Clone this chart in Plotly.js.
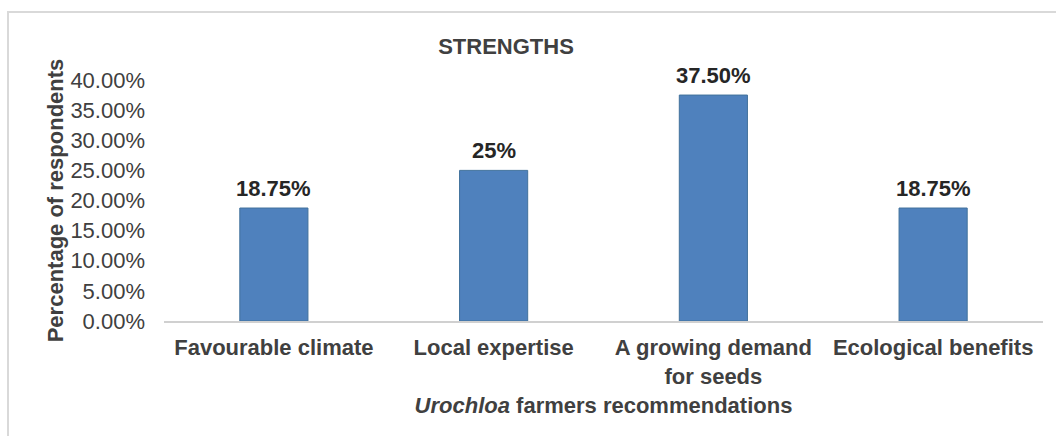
<!DOCTYPE html>
<html>
<head>
<meta charset="utf-8">
<script src="https://cdn.plot.ly/plotly-3.0.1.min.js"></script>
<style>html,body{margin:0;padding:0;background:#fff;}#chart{width:1056px;height:436px;}</style>
</head>
<body>
<div id="chart"></div>
<script>
const categories = ["Favourable climate", "Local expertise", "A growing demand<br>for seeds", "Ecological benefits"];
const values = [18.75, 25, 37.5, 18.75];
const valueLabels = ["18.75%", "25%", "37.50%", "18.75%"];
const yTickVals = [0, 5, 10, 15, 20, 25, 30, 35, 40];
const yTickText = ["0.00%", "5.00%", "10.00%", "15.00%", "20.00%", "25.00%", "30.00%", "35.00%", "40.00%"];

const W = 1056, H = 436;
const mL = 164, mR = 13, mT = 80, mB = 115;
const pw = W - mL - mR, ph = H - mT - mB;
const px = v => (v - mL) / pw;
const py = v => (H - mB - v) / ph;

const FONT = "Liberation Sans, Arial, sans-serif";
const FS = 22;

const trace = {
  type: "bar",
  x: categories,
  y: values,
  cliponaxis: false,
  marker: {color: "#4F81BD", line: {color: "#41719C", width: 1}},
  hoverinfo: "none"
};

const labelAnnotations = categories.map((c, i) => ({
  x: c, y: values[i], xref: "x", yref: "y",
  text: "<b>" + valueLabels[i] + "</b>",
  showarrow: false, xanchor: "center", yanchor: "bottom", yshift: 5,
  font: {family: FONT, size: FS, color: "#262626"}
}));

const layout = {
  width: W, height: H,
  margin: {l: mL, r: mR, t: mT, b: mB, pad: 0},
  paper_bgcolor: "#fff", plot_bgcolor: "#fff",
  showlegend: false,
  bargap: 0.69,
  font: {family: FONT, color: "#404040"},
  title: {
    text: "<b>STRENGTHS</b>",
    font: {family: FONT, size: FS, color: "#404040"},
    x: 506 / W, xref: "container", xanchor: "center",
    y: 1 - 46 / H, yref: "container", yanchor: "middle"
  },
  xaxis: {
    type: "category",
    showgrid: false, zeroline: false,
    showline: true, linecolor: "#D0D0D0", linewidth: 2,
    ticks: "", ticklabelstandoff: 6,
    tickfont: {family: FONT, size: FS, color: "#404040", weight: "bold"},
    title: {
      text: "<i>Urochloa</i> farmers recommendations",
      font: {family: FONT, size: FS, color: "#404040", weight: "bold"},
      standoff: 10
    },
    automargin: false
  },
  yaxis: {
    range: [0, 40],
    tickvals: yTickVals, ticktext: yTickText,
    showgrid: false, zeroline: false, showline: false,
    ticks: "", ticklabelstandoff: 18,
    tickfont: {family: FONT, size: FS, color: "#404040"},
    title: {
      text: "Percentage of respondents",
      font: {family: FONT, size: FS, color: "#404040", weight: "bold"},
      standoff: 0
    },
    automargin: false
  },
  annotations: labelAnnotations,
  shapes: [{
    type: "rect", layer: "below",
    xref: "paper", yref: "paper",
    x0: px(8), x1: px(1070), y0: py(450), y1: py(12),
    line: {color: "#D9D9D9", width: 2}, fillcolor: "rgba(0,0,0,0)"
  }]
};

Plotly.newPlot("chart", [trace], layout, {staticPlot: true, displayModeBar: false});
</script>
</body>
</html>
